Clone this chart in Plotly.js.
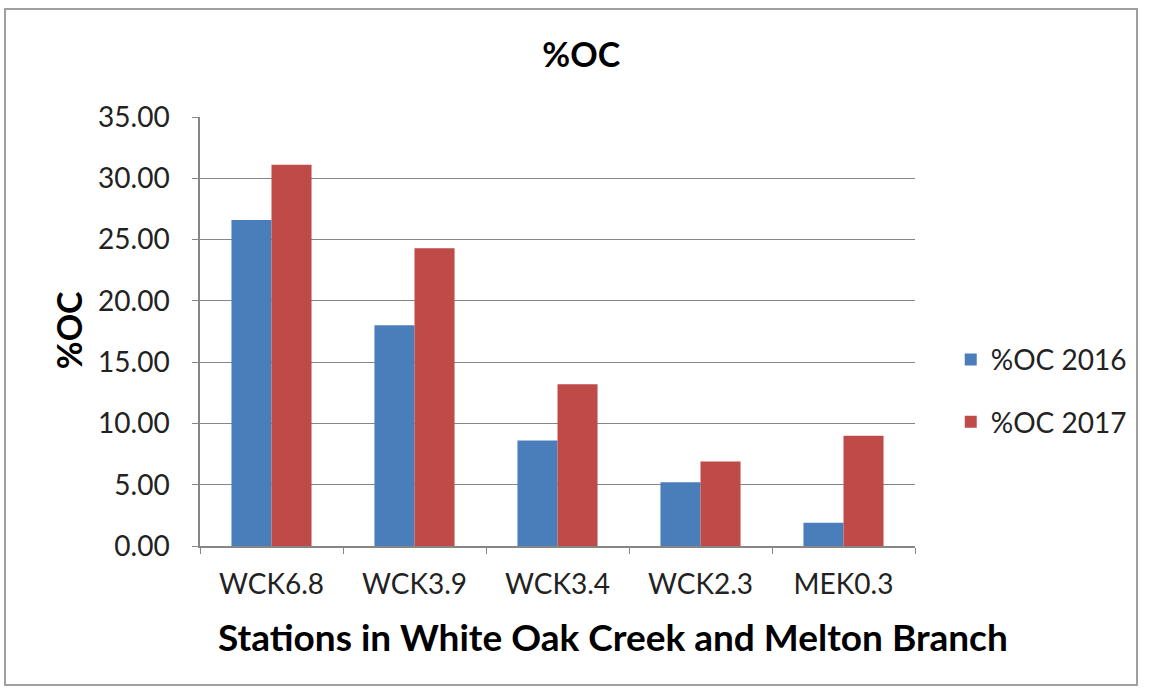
<!DOCTYPE html>
<html>
<head>
<meta charset="utf-8">
<script src="https://cdn.plot.ly/plotly-3.0.1.min.js"></script>
<style>
html,body{margin:0;padding:0;background:#fff;}
#frame{position:absolute;left:4px;top:8px;width:1134px;height:678px;border:2px solid #a0a0a0;box-sizing:border-box;}
#chart{position:absolute;left:0;top:0;width:1151px;height:693px;}
</style>
</head>
<body>
<div id="frame"></div>
<div id="chart"></div>
<script>
const categories = ["WCK6.8", "WCK3.9", "WCK3.4", "WCK2.3", "MEK0.3"];
const oc2016 = [26.6, 18.0, 8.6, 5.2, 1.9];
const oc2017 = [31.1, 24.3, 13.2, 6.9, 9.0];
const seriesNames = ["%OC 2016", "%OC 2017"];
const yTicks = [0, 5, 10, 15, 20, 25, 30, 35];
const yTickLabels = ["0.00", "5.00", "10.00", "15.00", "20.00", "25.00", "30.00", "35.00"];
const chartTitle = "%OC";
const xTitle = "Stations in White Oak Creek and Melton Branch";
const yTitle = "%OC";

const font = "Lato, 'Open Sans', sans-serif";
const data = [
  {type: "bar", name: seriesNames[0], x: categories, y: oc2016, marker: {color: "#4a7ebb"}, legendgroup: "a"},
  {type: "bar", name: seriesNames[1], x: categories, y: oc2017, marker: {color: "#be4b48"}, legendgroup: "b"}
];
const layout = {
  width: 1151, height: 693,
  paper_bgcolor: "rgba(0,0,0,0)", plot_bgcolor: "#fff",
  margin: {l: 200, r: 236, t: 117, b: 147},
  barmode: "group", bargap: 0.44, bargroupgap: 0,
  title: {text: "<b>" + chartTitle + "</b>", font: {family: font, size: 34, color: "#000"}, x: 0.505, xanchor: "center", y: 0.921, yanchor: "middle"},
  font: {family: font, color: "#000"},
  xaxis: {
    tickfont: {size: 28, color: "#222"}, showline: true, linecolor: "#868686", linewidth: 1.5,
    ticks: "outside", tickson: "boundaries", ticklen: 6, tickcolor: "#868686", ticklabelstandoff: 13
  },
  yaxis: {
    range: [0, 35], tickvals: yTicks, ticktext: yTickLabels, tickfont: {size: 28, color: "#222"},
    showgrid: true, gridcolor: "#868686", gridwidth: 1.2, zeroline: false,
    showline: true, linecolor: "#868686", linewidth: 1.5, ticks: "outside", ticklen: 6, tickcolor: "#868686",
    ticklabelstandoff: 17
  },
  annotations: [
    {text: "<b>" + xTitle + "</b>", xref: "paper", yref: "paper", x: 0.578, y: -0.21, xanchor: "center", yanchor: "middle", showarrow: false, font: {family: font, size: 37, color: "#000"}},
    {text: "<b>" + yTitle + "</b>", xref: "paper", yref: "paper", x: -0.1846, y: 0.503, xanchor: "center", yanchor: "middle", textangle: -90, showarrow: false, font: {family: font, size: 34, color: "#000"}}
  ],
  legend: {x: 1.05, y: 0.362, xanchor: "left", yanchor: "middle", font: {size: 28, color: "#222"}, tracegroupgap: 23, traceorder: "grouped", bgcolor: "rgba(0,0,0,0)"},
  showlegend: true
};
Plotly.newPlot("chart", data, layout, {displayModeBar: false});
</script>
</body>
</html>
